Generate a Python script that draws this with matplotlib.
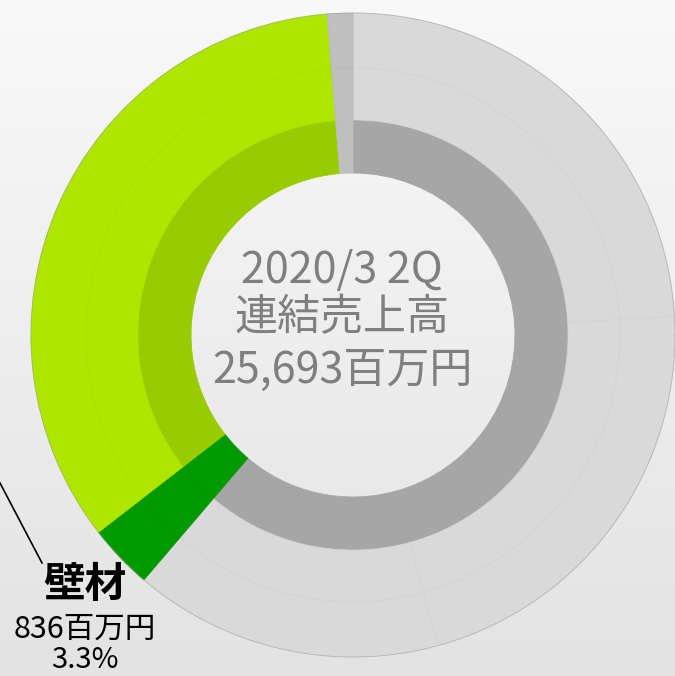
import numpy as np
import matplotlib.pyplot as plt
from matplotlib.colors import LinearSegmentedColormap, to_rgb

plt.rcParams['font.family'] = ['Noto Sans CJK JP', 'DejaVu Sans']

# sales by segment, million yen (clockwise from 12 o'clock)
segments = ['その他A', 'その他B', 'その他C', '壁材', '床材', '調整']
sales = [6187, 5570, 3980, 836, 8790, 330]
total = sum(sales)

outer_colors = ['#d9d9d9', '#d9d9d9', '#d9d9d9', '#009900', '#aee600', '#bfbfbf']
inner_colors = ['#a6a6a6', '#a6a6a6', '#a6a6a6', '#009900', '#99cc00', '#bfbfbf']

highlight = '壁材'
hl_value = sales[segments.index(highlight)]


def shade(c, f=0.975):
    r, g, b = to_rgb(c)
    return (r * f, g * f, b * f)


fig = plt.figure(figsize=(6.75, 6.76), dpi=100)
ax = fig.add_axes([0, 0, 1, 1])

# scale: 1 data unit = 322 px, centre of the ring at (353, 335) px
x0, x1 = -353 / 322, (675 - 353) / 322
y0, y1 = -(676 - 335) / 322, 335 / 322

# soft vertical background gradient
bg = LinearSegmentedColormap.from_list('bg', ['#e3e3e3', '#f9f9f9'])
grad = np.linspace(0, 1, 256).reshape(-1, 1)
ax.imshow(grad, cmap=bg, aspect='auto', origin='lower',
          extent=[x0, x1, y0, y1], zorder=0)

# inner ring, no seams
wedges, _ = ax.pie(sales, radius=0.668, colors=inner_colors, startangle=90,
                   counterclock=False, wedgeprops=dict(width=0.165))
for w, c in zip(wedges, inner_colors):
    w.set_edgecolor(c)
    w.set_linewidth(0.6)

# middle and outer ring with barely visible seams
for rad, wid in [(0.829, 0.161), (1.0, 0.171)]:
    wedges, _ = ax.pie(sales, radius=rad, colors=outer_colors, startangle=90,
                       counterclock=False, wedgeprops=dict(width=wid))
    for w, c in zip(wedges, outer_colors):
        w.set_edgecolor(shade(c))
        w.set_linewidth(0.6)

# darker rim around the outside
th = np.linspace(0, 2 * np.pi, 720)
ax.plot(np.cos(th), np.sin(th), color='#a0a0a0', lw=0.6, alpha=0.6, zorder=5)

ax.set_xlim(x0, x1)
ax.set_ylim(y0, y1)
ax.set_aspect('auto')
ax.axis('off')

# centre caption
cx = -11 / 322
ax.text(cx, 64 / 322, '2020/3 2Q', ha='center', va='center',
        fontsize=31, color='#7f7f7f')
ax.text(cx, 17 / 322, '連結売上高', ha='center', va='center',
        fontsize=31, color='#7f7f7f')
ax.text(cx, -36 / 322, f'{total:,}百万円', ha='center', va='center',
        fontsize=31, color='#7f7f7f')

# label for the highlighted segment
lx = -268 / 322
ax.plot([-353 / 322, -311 / 322], [-148 / 322, -228 / 322],
        color='black', lw=1.2, zorder=6)
ax.text(lx, -250 / 322, highlight, ha='center', va='center',
        fontsize=30, fontweight='bold', color='black')
ax.text(lx, -294 / 322, f'{hl_value}百万円', ha='center', va='center',
        fontsize=22, color='black')
ax.text(lx, -325 / 322, f'{hl_value / total * 100:.1f}%', ha='center',
        va='center', fontsize=21, color='black')

fig.savefig('out.png', dpi=100)
